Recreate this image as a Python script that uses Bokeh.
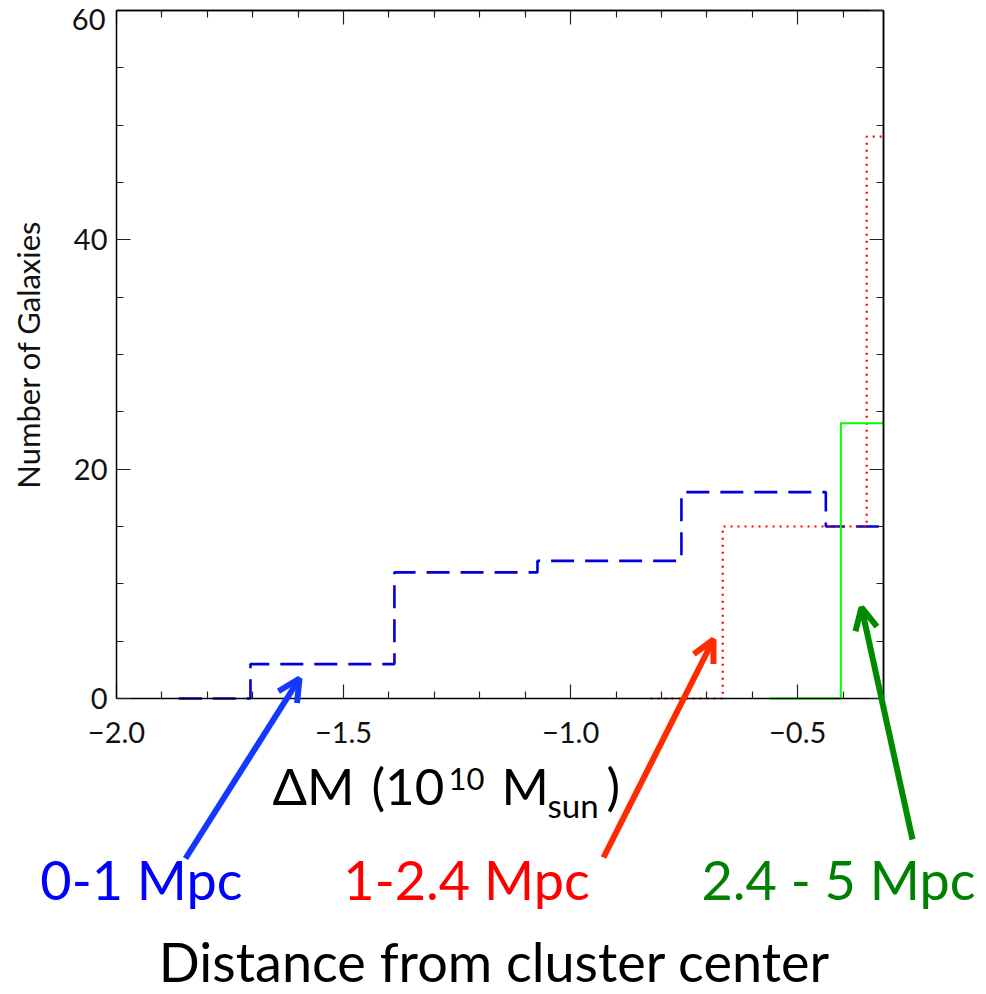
import numpy as np
from bokeh.plotting import figure
from bokeh.models import Range1d, LinearAxis, FixedTicker, Label, Arrow, OpenHead
from bokeh.embed import file_html
from bokeh.resources import INLINE

# ---------------- data ----------------
# histogram step edges (Delta M, 10^10 Msun) and counts per step
blue_edges = [-1.863, -1.705, -1.388, -1.073, -0.756, -0.438, -0.28]
blue_counts = [0, 3, 11, 12, 18, 15]
red_edges = [-0.824, -0.665, -0.348, -0.19]
red_counts = [0, 15, 49]
green_edges = [-0.561, -0.405, -0.25]
green_counts = [0, 24]

x_major = [-2.0, -1.5, -1.0, -0.5]
x_minor = [-1.9, -1.8, -1.7, -1.6, -1.4, -1.3, -1.2, -1.1,
           -0.9, -0.8, -0.7, -0.6, -0.4]
x_labels = {-2.0: "\u22122.0", -1.5: "\u22121.5", -1.0: "\u22121.0", -0.5: "\u22120.5"}
y_major = [0, 20, 40, 60]
y_minor = [5, 10, 15, 25, 30, 35, 45, 50, 55]
y_top_label = "60"

group_labels = ["0-1 Mpc", "1-2.4 Mpc", "2.4 - 5 Mpc"]
group_colors = ["#0000ff", "#ff0000", "#008000"]
arrow_colors = ["#1438ff", "#ff2a00", "#008a00"]

# ---------------- layout geometry (pixels) ----------------
W, H = 986, 994
FL, FT, FW, FH = 116, 10, 767, 688      # plot box in the page
X0, X1 = -2.0, -0.311                   # axis limits
Y0, Y1 = 0.0, 60.0


def px2x(px):
    return X0 + (px - FL) * (X1 - X0) / FW


def px2y(py):
    return Y0 + (FT + FH - py) * (Y1 - Y0) / FH


FONT = "Lato"

# the drawing area spans the whole page; the plot box is drawn with
# fixed-location axes so that arrows and texts may lie outside of it
p = figure(width=W, height=H, min_border=0,
           x_range=Range1d(px2x(0), px2x(W)), y_range=Range1d(px2y(H), px2y(0)),
           output_backend="svg", toolbar_location=None,
           x_axis_location=None, y_axis_location=None)
p.xgrid.visible = False
p.ygrid.visible = False
p.outline_line_color = None
p.background_fill_color = "white"
p.border_fill_color = "white"


def make_axis(loc, bounds, ticks, minor, tick_len_major=14, tick_len_minor=7):
    ax = LinearAxis(fixed_location=loc, bounds=bounds)
    ax.ticker = FixedTicker(ticks=ticks, minor_ticks=minor)
    ax.major_tick_in = tick_len_major
    ax.major_tick_out = 0
    ax.minor_tick_in = tick_len_minor
    ax.minor_tick_out = 0
    ax.axis_line_color = "black"
    ax.axis_line_width = 1.5
    ax.major_tick_line_color = "#222222"
    ax.minor_tick_line_color = "#222222"
    ax.major_tick_line_width = 1.2
    ax.minor_tick_line_width = 1.2
    ax.major_label_text_font = FONT
    ax.major_label_text_font_size = "29px"
    ax.major_label_text_color = "#111111"
    return ax


# bottom axis with labels
xb = make_axis(Y0, (X0, X1), x_major, x_minor)
xb.major_label_overrides = x_labels
xb.major_label_standoff = 23
p.add_layout(xb, "below")

# top axis: ticks only (major positions drawn as long minor ticks)
xt1 = make_axis(Y1, (X0, X1), [], x_minor)
xt2 = make_axis(Y1, (X0, X1), [], x_major, tick_len_minor=14)
p.add_layout(xt1, "above")
p.add_layout(xt2, "above")

# left axis with labels (the top label "60" sits just below the corner, as in the reference)
yl = make_axis(X0, (Y0, Y1), [t for t in y_major if t < Y1], y_minor)
yl.major_label_standoff = 9
yl.major_label_orientation = "horizontal"
yl.axis_label = "Number of Galaxies"
yl.axis_label_text_font = FONT
yl.axis_label_text_font_size = "31px"
yl.axis_label_text_font_style = "normal"
yl.axis_label_text_color = "#111111"
yl.axis_label_standoff = 24
p.add_layout(yl, "left")

# right axis: ticks only
yr1 = make_axis(X1, (Y0, Y1), [], y_minor)
yr2 = make_axis(X1, (Y0, Y1), [], y_major, tick_len_minor=14)
p.add_layout(yr1, "right")
p.add_layout(yr2, "right")


# ---------------- histograms (cut at the plot box's right edge) ----------------
def steps(edges, counts):
    xs = np.minimum(np.array(edges, dtype=float), X1)
    ys = list(counts) + [counts[-1]]
    return xs, ys


bx, by = steps(blue_edges, blue_counts)
rx, ry = steps(red_edges, red_counts)
gx, gy = steps(green_edges, green_counts)
p.step(x=bx, y=by, mode="after", line_color="#0000d8", line_width=2.6, line_dash="23 11")
p.step(x=rx, y=ry, mode="after", line_color="#ff0000", line_width=2.2, line_dash="2 5")
p.step(x=gx, y=gy, mode="after", line_color="#00ff00", line_width=2.0)


# ---------------- texts ----------------
def add_text(txt, px, base_py, size, color="black", align="left"):
    # base_py: wanted baseline (pixels from top); Label's anchor sits ~0.46 em above it
    p.add_layout(Label(x=px2x(px), y=px2y(base_py - 0.46 * size), text=txt,
                       text_font=FONT, text_font_size=f"{size}px",
                       text_color=color, text_align=align,
                       text_baseline="alphabetic"))


add_text(y_top_label, 105, 32, 29, color="#111111", align="right")

add_text("\u0394M", 272, 808, 51)
add_text("(10", 371, 808, 51)
add_text("10", 448, 793, 31)
add_text("M", 501, 808, 51)
add_text("sun", 547, 820, 33)
add_text(")", 606, 808, 51)

label_pos = [(141, 904), (466, 904), (838, 904)]
arrow_pos = [((185, 858), (299, 678)), ((603, 857), (713, 639)), ((912, 839), (861, 607))]
for txt, col, acol, (lx, ly), ((sx, sy), (ex, ey)) in zip(
        group_labels, group_colors, arrow_colors, label_pos, arrow_pos):
    add_text(txt, lx, ly, 54, color=col, align="center")
    p.add_layout(Arrow(x_start=px2x(sx), y_start=px2y(sy),
                       x_end=px2x(ex), y_end=px2y(ey),
                       line_color=acol, line_width=6,
                       end=OpenHead(size=22, line_width=6, line_color=acol)))

add_text("Distance from cluster center", 494, 986, 54, align="center")

open("out.html", "w").write(file_html(p, INLINE))
